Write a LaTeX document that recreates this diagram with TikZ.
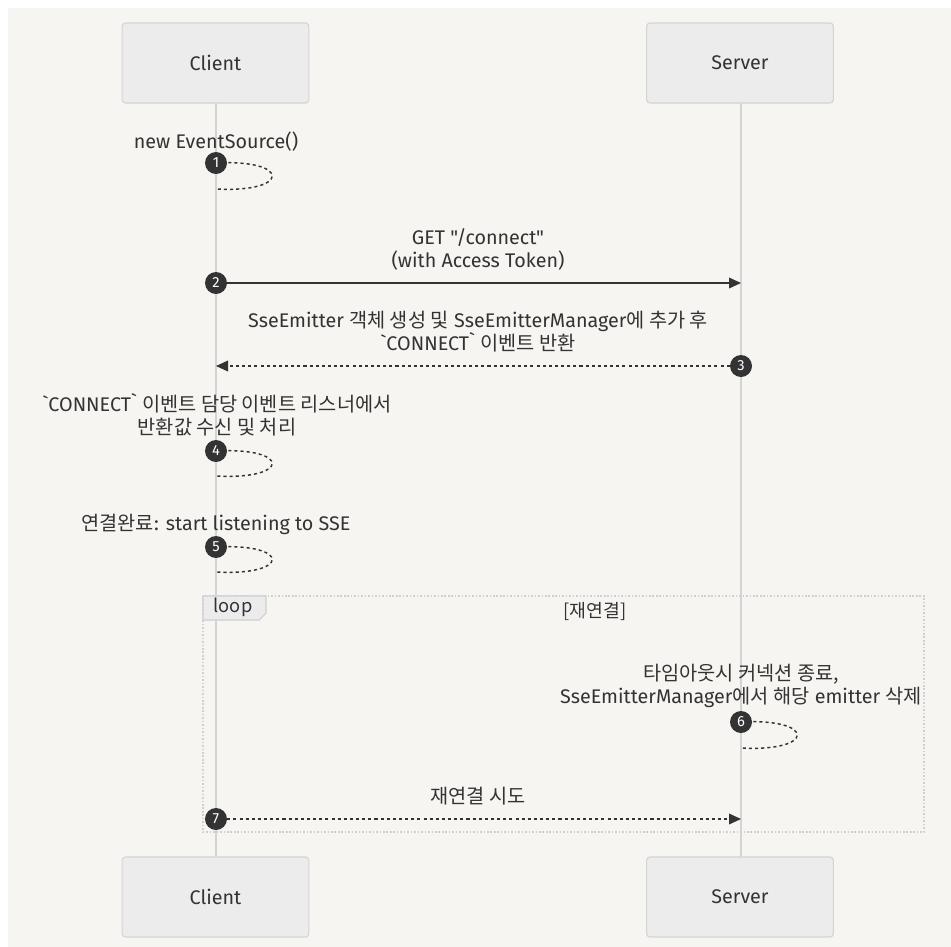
\documentclass[tikz,border=0pt]{standalone}
\usepackage{fontspec}
\newfontfamily\lat{Fira Sans}
\newfontfamily\kr{Noto Sans CJK KR}
\usetikzlibrary{arrows.meta}
\definecolor{bg}{HTML}{F6F5F2}
\definecolor{actfill}{HTML}{ECECEC}
\definecolor{actdraw}{HTML}{D4D4D4}
\definecolor{txt}{HTML}{333333}
\definecolor{life}{HTML}{D3D3D3}
\definecolor{loopc}{HTML}{CFCFCF}
\newcommand\K[1]{{\kr #1}}
\newcommand\BT{\symbol{96}}
\begin{document}
\begin{tikzpicture}[x=0.75pt,y=-0.75pt,
  font=\lat\fontsize{14.8}{17.2}\selectfont, text=txt,
  actor/.style={draw=actdraw, fill=actfill, rounded corners=2.5pt, line width=0.8pt,
    minimum width=140pt, minimum height=60pt, inner sep=0pt},
  lifeline/.style={draw=life, line width=1.3pt},
  numc/.style={circle, fill=txt, text=white, inner sep=0pt, minimum size=16.5pt,
    font=\lat\fontsize{11}{12}\selectfont},
  msg/.style={draw=txt, line width=1.1pt, -{Triangle[length=9pt,width=8pt]}},
  reply/.style={msg, dash pattern=on 2.3pt off 2.3pt},
  selfmsg/.style={draw=txt, line width=1.1pt, dash pattern=on 2.3pt off 2.3pt},
  lbl/.style={inner sep=0pt, align=center},
  loopbox/.style={draw=loopc, line width=1.2pt, dash pattern=on 1.2pt off 1.4pt}
]
\useasboundingbox (0,0) rectangle (951,947);
\fill[white] (0,0) rectangle (951,947);
\fill[bg] (8,8) rectangle (951,947);

% lifelines
\coordinate (cl0) at (216,103);
\coordinate (cl1) at (216,857);
\coordinate (sl0) at (741,103);
\coordinate (sl1) at (741,857);
\draw[lifeline] (cl0) -- (cl1);
\draw[lifeline] (sl0) -- (sl1);

% loop frame
\coordinate (lpA) at (203,596);
\coordinate (lpB) at (924,832);
\draw[loopbox] (lpA) rectangle (lpB);
\draw[fill=actfill, draw=loopc, line width=0.8pt]
  (203,596) -- (266,596) -- (266,613) -- (259,620) -- (203,620) -- cycle;
\node[lbl, font=\kr\fontsize{13.7}{15}\selectfont] (looplbl) at (233,607) {loop};
\node[lbl, font=\kr\fontsize{13.7}{15}\selectfont] (loopcond) at (595,611) {[재연결]};

% actors
\node[actor] (clientT) at (215.5,63) {Client};
\node[actor] (serverT) at (740,63) {Server};
\node[actor] (clientB) at (215.5,897) {Client};
\node[actor] (serverB) at (740,897) {Server};

% 1 self
\coordinate (p1) at (216,163);
\coordinate (q1) at (216,189);
\draw[selfmsg] (p1) .. controls (291,159) and (291,193) .. (q1);
\node[numc] (n1) at (p1) {1};
\node[lbl] (t1) at (216,142) {new EventSource()};

% 2
\node[numc] (n2) at (216,283) {2};
\coordinate (s2) at (741,283);
\draw[msg] (n2) -- (s2);
\node[lbl] (t2) at (478,249) {GET "/connect"\\(with Access Token)};

% 3
\node[numc] (n3) at (741,366) {3};
\coordinate (c3) at (216,366);
\draw[reply] (n3) -- (c3);
\node[lbl] (t3) at (478,331.5) {SseEmitter \K{객체 생성 및} SseEmitterManager\K{에 추가 후}\\\BT CONNECT\BT{} \K{이벤트 반환}};

% 4 self
\coordinate (p4) at (216,451);
\coordinate (q4) at (216,476);
\draw[selfmsg] (p4) .. controls (291,447) and (291,480) .. (q4);
\node[numc] (n4) at (p4) {4};
\node[lbl] (t4) at (217,415) {\BT CONNECT\BT{} \K{이벤트 담당 이벤트 리스너에서}\\\K{반환값 수신 및 처리}};

% 5 self
\coordinate (p5) at (216,547);
\coordinate (q5) at (216,572);
\draw[selfmsg] (p5) .. controls (291,543) and (291,576) .. (q5);
\node[numc] (n5) at (p5) {5};
\node[lbl] (t5) at (216,524) {\K{연결완료}: start listening to SSE};

% 6 self
\coordinate (p6) at (741,722);
\coordinate (q6) at (741,748);
\draw[selfmsg] (p6) .. controls (816,718) and (816,752) .. (q6);
\node[numc] (n6) at (p6) {6};
\node[lbl] (t6) at (741,686) {\K{타임아웃시 커넥션 종료,}\\SseEmitterManager\K{에서 해당} emitter \K{삭제}};

% 7
\node[numc] (n7) at (216,819) {7};
\coordinate (s7) at (741,819);
\draw[reply] (n7) -- (s7);
\node[lbl] (t7) at (478,796) {\K{재연결 시도}};
\end{tikzpicture}
\end{document}
